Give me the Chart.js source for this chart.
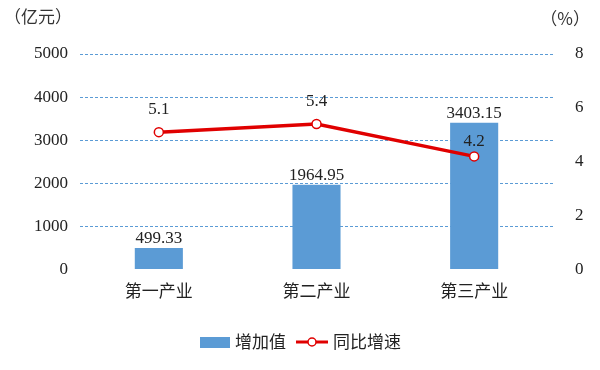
<!DOCTYPE html>
<html><head><meta charset="utf-8">
<script src="https://cdn.jsdelivr.net/npm/chart.js@4/dist/chart.umd.min.js"></script>
<style>html,body{margin:0;padding:0;background:#fff}#wrap{width:600px;height:370px}</style>
</head><body><div id="wrap"><canvas id="c" width="600" height="370"></canvas></div>
<script>
const categories = ['第一产业', '第二产业', '第三产业'];
const addedValue = [499.33, 1964.95, 3403.15];
const growthRate = [5.1, 5.4, 4.2];
const seriesNames = ['增加值', '同比增速'];
const leftUnit = '（亿元）';
const rightUnit = '（%）';

const BLUE = '#5B9BD5';
const RED = '#E00000';
const SERIF = '"Liberation Serif", "DejaVu Serif", serif';
const CJK = '"Noto Sans CJK SC", sans-serif';

const overlay = {
  id: 'overlay',
  afterDatasetsDraw(chart) {
    const ctx = chart.ctx;
    ctx.save();
    ctx.fillStyle = '#222';
    ctx.font = '17px ' + SERIF;
    ctx.textAlign = 'center';
    ctx.textBaseline = 'bottom';
    const barTops = [];
    chart.getDatasetMeta(1).data.forEach((el, i) => {
      ctx.fillText(addedValue[i].toFixed(2), el.x, el.y - 1);
      barTops.push(el.y);
    });
    chart.getDatasetMeta(0).data.forEach((el, i) => {
      let base = el.y - 14;
      // point sits inside the bar close to its value label: draw the label lower, inside the bar
      if (el.y > barTops[i] && base - 18 < barTops[i] + 6) base = el.y - 6;
      ctx.fillText(growthRate[i].toFixed(1), el.x, base);
    });
    // units
    ctx.font = '17px ' + CJK;
    ctx.textBaseline = 'middle';
    ctx.textAlign = 'left';
    ctx.fillStyle = '#333';
    ctx.fillText(leftUnit, 4, 17);
    ctx.textAlign = 'right';
    ctx.fillText(rightUnit, 590, 19);
    // legend
    const ly = 342;
    ctx.fillStyle = BLUE;
    ctx.fillRect(200, ly - 5, 30, 11);
    ctx.fillStyle = '#222';
    ctx.textAlign = 'left';
    ctx.fillText(seriesNames[0], 235, ly);
    ctx.strokeStyle = RED;
    ctx.lineWidth = 3;
    ctx.beginPath(); ctx.moveTo(296, ly); ctx.lineTo(328, ly); ctx.stroke();
    ctx.fillStyle = '#fff';
    ctx.lineWidth = 1.5;
    ctx.beginPath(); ctx.arc(312, ly, 4, 0, Math.PI * 2); ctx.fill(); ctx.stroke();
    ctx.fillStyle = '#222';
    ctx.fillText(seriesNames[1], 333, ly);
    ctx.restore();
  }
};

new Chart(document.getElementById('c'), {
  data: {
    labels: categories,
    datasets: [
      {
        type: 'line', label: seriesNames[1], data: growthRate, yAxisID: 'y1',
        borderColor: RED, borderWidth: 3.5, backgroundColor: '#fff',
        pointRadius: 4.5, pointBorderWidth: 1.5, pointBackgroundColor: '#fff', pointBorderColor: RED,
        tension: 0, order: 0
      },
      {
        type: 'bar', label: seriesNames[0], data: addedValue, yAxisID: 'y',
        backgroundColor: BLUE, borderWidth: 0,
        categoryPercentage: 1, barPercentage: 0.305, order: 1
      }
    ]
  },
  options: {
    responsive: false, animation: false,
    layout: { padding: { top: 54, bottom: 66, left: 0, right: 0 } },
    plugins: { legend: { display: false }, tooltip: { enabled: false } },
    scales: {
      x: {
        grid: { display: false }, border: { display: false },
        ticks: { color: '#222', font: { family: CJK, size: 17 }, padding: 3 }
      },
      y: {
        position: 'left', min: 0, max: 5000,
        ticks: { stepSize: 1000, color: '#222', font: { family: SERIF, size: 17 }, padding: 12,
                 callback: (v) => String(v) },
        grid: {
          drawTicks: false, lineWidth: 1,
          color: (c) => c.tick && c.tick.value === 0 ? 'rgba(0,0,0,0)' : '#5B9BD5'
        },
        border: { display: false, dash: [3, 2] },
        afterFit(s) { s.width = 80; }
      },
      y1: {
        position: 'right', min: 0, max: 8,
        ticks: { stepSize: 2, color: '#222', font: { family: SERIF, size: 17 }, padding: 14 },
        grid: { display: false }, border: { display: false },
        afterFit(s) { s.width = 47; }
      }
    }
  },
  plugins: [overlay]
});
</script>
</body></html>
